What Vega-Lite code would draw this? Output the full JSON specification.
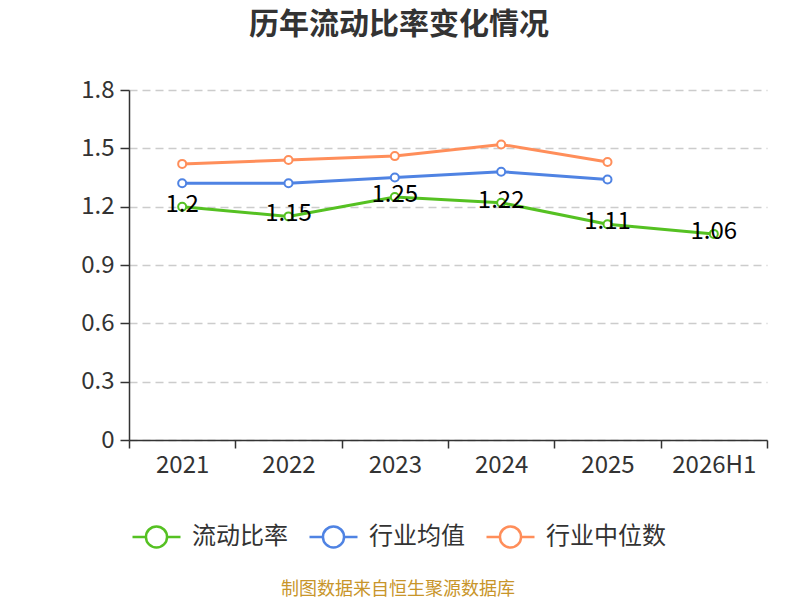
{
  "$schema": "https://vega.github.io/schema/vega-lite/v6.json",
  "width": 638,
  "height": 350,
  "padding": {"left": 80, "top": 10, "right": 30, "bottom": 2},
  "config": {
    "font": "Noto Sans CJK SC",
    "view": {"stroke": null}
  },
  "title": {
    "text": "历年流动比率变化情况",
    "fontSize": 30,
    "fontWeight": "bold",
    "color": "#333333",
    "anchor": "middle",
    "dx": -49,
    "offset": 38
  },
  "data": {
    "values": [
      {"year": "2021", "series": "流动比率", "value": 1.2},
      {"year": "2022", "series": "流动比率", "value": 1.15},
      {"year": "2023", "series": "流动比率", "value": 1.25},
      {"year": "2024", "series": "流动比率", "value": 1.22},
      {"year": "2025", "series": "流动比率", "value": 1.11},
      {"year": "2026H1", "series": "流动比率", "value": 1.06},
      {"year": "2021", "series": "行业均值", "value": 1.32},
      {"year": "2022", "series": "行业均值", "value": 1.32},
      {"year": "2023", "series": "行业均值", "value": 1.35},
      {"year": "2024", "series": "行业均值", "value": 1.38},
      {"year": "2025", "series": "行业均值", "value": 1.34},
      {"year": "2021", "series": "行业中位数", "value": 1.42},
      {"year": "2022", "series": "行业中位数", "value": 1.44},
      {"year": "2023", "series": "行业中位数", "value": 1.46},
      {"year": "2024", "series": "行业中位数", "value": 1.52},
      {"year": "2025", "series": "行业中位数", "value": 1.43}
    ]
  },
  "encoding": {
    "x": {
      "field": "year",
      "type": "nominal",
      "sort": null,
      "scale": {"type": "band", "paddingInner": 0, "paddingOuter": 0},
      "axis": {
        "title": null,
        "labelAngle": 0,
        "labelFontSize": 24,
        "labelColor": "#333333",
        "labelPadding": 5,
        "tickBand": "extent",
        "tickSize": 8,
        "tickColor": "#333333",
        "tickWidth": 1.5,
        "domainColor": "#333333",
        "domainWidth": 1.5,
        "grid": false
      }
    },
    "y": {
      "field": "value",
      "type": "quantitative",
      "scale": {"domain": [0, 1.8], "nice": false},
      "axis": {
        "title": null,
        "values": [0, 0.3, 0.6, 0.9, 1.2, 1.5, 1.8],
        "format": ".1~f",
        "labelFontSize": 24,
        "labelColor": "#333333",
        "labelPadding": 6,
        "tickSize": 9,
        "tickColor": "#333333",
        "tickWidth": 1.5,
        "domainColor": "#333333",
        "domainWidth": 1.5,
        "gridColor": "#cccccc",
        "gridWidth": 1.5,
        "gridDash": [8, 5]
      }
    },
    "color": {
      "field": "series",
      "type": "nominal",
      "sort": ["流动比率", "行业均值", "行业中位数"],
      "scale": {
        "domain": ["流动比率", "行业均值", "行业中位数"],
        "range": ["#55c122", "#4f83e3", "#ff8e5a"]
      },
      "legend": {
        "title": "制图数据来自恒生聚源数据库",
        "titleOrient": "bottom",
        "titleAnchor": "middle",
        "titleFontSize": 18,
        "titleFontWeight": "normal",
        "titleColor": "#c8952a",
        "titlePadding": 28,
        "titleLimit": 600,
        "orient": "none",
        "legendX": 2,
        "legendY": 421,
        "direction": "horizontal",
        "symbolType": "M-1,0L-0.44,0M0.44,0L1,0M0.44,0A0.44,0.44,0,1,1,-0.44,0A0.44,0.44,0,1,1,0.44,0",
        "symbolSize": 2304,
        "symbolStrokeWidth": 2.5,
        "symbolFillColor": "white",
        "labelFontSize": 24,
        "labelColor": "#333333",
        "labelOffset": 10,
        "columnPadding": 16,
        "encode": {
          "symbols": {"update": {"fill": {"value": "white"}, "strokeWidth": {"value": 2.5}}}
        }
      }
    }
  },
  "layer": [
    {"mark": {"type": "line", "strokeWidth": 3}},
    {"mark": {"type": "point", "filled": false, "fill": "white", "size": 64, "strokeWidth": 2, "opacity": 1}},
    {
      "transform": [{"filter": "datum.series === '流动比率'"}],
      "mark": {"type": "text", "fontSize": 24, "baseline": "middle", "dy": -2},
      "encoding": {"text": {"field": "value", "type": "quantitative"}, "color": {"value": "black"}}
    }
  ]
}
